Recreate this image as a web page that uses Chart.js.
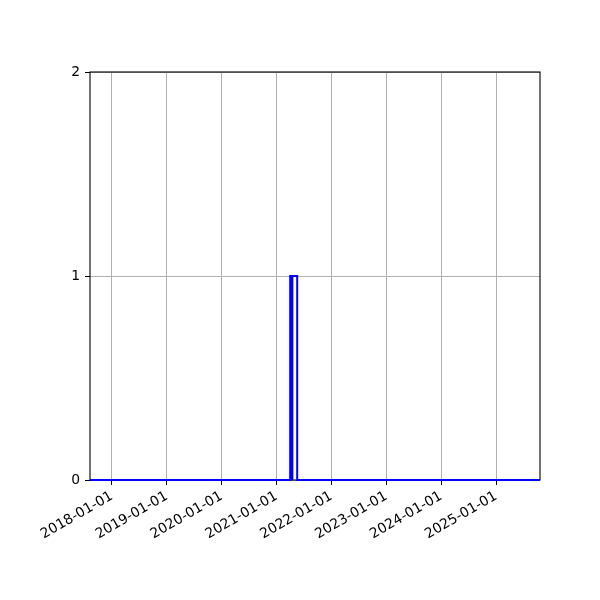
<!DOCTYPE html>
<html>
<head>
<meta charset="utf-8">
<script src="https://cdn.jsdelivr.net/npm/chart.js@4/dist/chart.umd.min.js"></script>
<style>
  html, body { margin: 0; padding: 0; background: #fff; }
  #box { width: 600px; height: 600px; }
</style>
</head>
<body>
<div id="box"><canvas id="histChart" width="600" height="600"></canvas></div>
<script>
// step outlines: edges and counts (count i spans edge i .. edge i+1)
const binEdges = ['2017-08-08', '2021-04-03', '2021-05-18', '2025-10-20'];
const counts = [0, 1, 0];
// second, narrower outline that sits on the left side of the spike
const narrowEdges = ['2021-04-03', '2021-04-16'];
const narrowCounts = [1];
const yearTicks = ['2018-01-01', '2019-01-01', '2020-01-01', '2021-01-01',
                   '2022-01-01', '2023-01-01', '2024-01-01', '2025-01-01'];
const yTicks = [0, 1, 2];

const xMin = Date.parse('2017-08-08');
const xMax = Date.parse('2025-10-20');

function stepPoints(edges, vals, closeToZero) {
    const pts = [];
    if (closeToZero) pts.push({ x: Date.parse(edges[0]), y: 0 });
    vals.forEach((c, i) => pts.push({ x: Date.parse(edges[i]), y: c }));
    pts.push({ x: Date.parse(edges[edges.length - 1]), y: vals[vals.length - 1] });
    if (closeToZero) pts.push({ x: Date.parse(edges[edges.length - 1]), y: 0 });
    return pts;
}

const frame = {
    id: 'frame',
    beforeDatasetsDraw(chart) {
        const a = chart.chartArea, ctx = chart.ctx;
        ctx.save();
        ctx.strokeStyle = '#000';
        ctx.lineWidth = 1.1;
        ctx.strokeRect(a.left, a.top, a.right - a.left, a.bottom - a.top);
        ctx.restore();
    }
};

const lineStyle = { stepped: 'before', borderColor: '#0000ff', borderWidth: 2, pointRadius: 0, fill: false, clip: false };

const ctx = document.getElementById('histChart').getContext('2d');
new Chart(ctx, {
    type: 'line',
    data: {
        datasets: [
            Object.assign({ data: stepPoints(binEdges, counts, false) }, lineStyle),
            Object.assign({ data: stepPoints(narrowEdges, narrowCounts, true) }, lineStyle)
        ]
    },
    options: {
        responsive: false,
        animation: false,
        devicePixelRatio: 1,
        layout: { padding: { left: 0, top: 72, right: 60, bottom: 0 } },
        plugins: { legend: { display: false }, tooltip: { enabled: false } },
        scales: {
            x: {
                type: 'linear',
                min: xMin,
                max: xMax,
                afterBuildTicks: axis => { axis.ticks = yearTicks.map(d => ({ value: Date.parse(d) })); },
                afterFit: axis => { axis.height = 120; },
                grid: { color: '#b0b0b0', lineWidth: 1, tickColor: '#000', tickLength: 5 },
                border: { display: false },
                ticks: {
                    autoSkip: false,
                    maxRotation: 30,
                    minRotation: 30,
                    color: '#000',
                    padding: 3,
                    font: { family: 'DejaVu Sans', size: 13.9 },
                    callback: v => new Date(v).toISOString().slice(0, 10)
                }
            },
            y: {
                min: 0,
                max: 2,
                afterBuildTicks: axis => { axis.ticks = yTicks.map(v => ({ value: v })); },
                afterFit: axis => { axis.width = 90; },
                grid: { color: '#b0b0b0', lineWidth: 1, tickColor: '#000', tickLength: 5 },
                border: { display: false },
                ticks: {
                    color: '#000',
                    padding: 5,
                    font: { family: 'DejaVu Sans', size: 13.9 }
                }
            }
        }
    },
    plugins: [frame]
});
</script>
</body>
</html>
